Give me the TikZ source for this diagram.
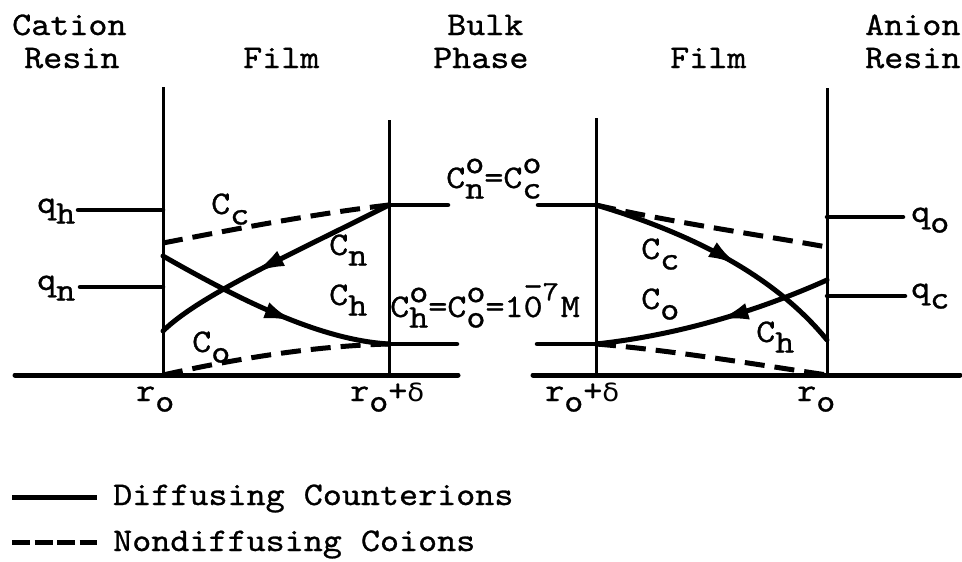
\documentclass[tikz,border=0pt]{standalone}
\usepackage{fontspec}
\newfontfamily\tyfont{lmmono10-regular.otf}[FakeBold=0.8]
\newfontfamily\grk{DejaVu Sans}
\usetikzlibrary{arrows.meta,decorations.markings}

\newcommand\dn[1]{\raisebox{-0.32em}{#1}}
\newcommand\up[1]{\raisebox{0.45em}{#1}}
\newcommand\ud[2]{\rlap{\up{#1}}\dn{#2}}
\newcommand\tw[1]{\scalebox{1.1}[1]{#1}}
\newcommand\dlt{{\grk\fontsize{25}{28}\selectfont δ}}

\begin{document}
\begin{tikzpicture}[x=1pt,y=-1pt,
  lbl/.style={inner sep=0pt, anchor=base west, font=\fontsize{33}{36}\selectfont\tyfont},
  axisln/.style={line width=5pt, line cap=round},
  wall/.style={line width=3pt},
  lvl/.style={line width=4.5pt, line cap=round},
  solidc/.style={line width=5pt, line cap=round},
  dashc/.style={line width=5pt, dash pattern=on 20pt off 10pt},
  arr/.style={postaction={decorate}, decoration={markings, mark=at position #1 with {\arrow{Latex[length=30pt,width=17pt]}}}}
]
\path[use as bounding box] (0,0) rectangle (962,562);

% coordinates
\coordinate (A0) at (15,375);
\coordinate (A1) at (458,375);
\coordinate (B0) at (533,375);
\coordinate (B1) at (960,375);
\coordinate (W1t) at (163,87);  \coordinate (W1b) at (163,375);
\coordinate (W2t) at (389,120); \coordinate (W2b) at (389,375);
\coordinate (W3t) at (596,118); \coordinate (W3b) at (596,375);
\coordinate (W4t) at (827,88);  \coordinate (W4b) at (827,375);
\coordinate (qh0) at (78,210);  \coordinate (qh1) at (163,210);
\coordinate (qn0) at (80,287);  \coordinate (qn1) at (163,287);
\coordinate (qo0) at (827,217); \coordinate (qo1) at (903,217);
\coordinate (qc0) at (827,296); \coordinate (qc1) at (905,296);
\coordinate (L1) at (389,205);  \coordinate (L2) at (448,205);
\coordinate (L3) at (389,344);  \coordinate (L4) at (457,344);
\coordinate (R1) at (538,205);  \coordinate (R2) at (596,205);
\coordinate (R3) at (537,344);  \coordinate (R4) at (596,344);
\coordinate (LCc) at (163,243);
\coordinate (LCn) at (163,331);
\coordinate (LCh) at (163,256);
\coordinate (LCo) at (163,375);
\coordinate (RCc) at (827,247);
\coordinate (RCh) at (827,340);
\coordinate (RCo) at (827,280);
\coordinate (RCb) at (827,375);

% axes and walls
\draw[axisln] (A0) -- (A1);
\draw[axisln] (B0) -- (B1);
\draw[wall] (W1t) -- (W1b);
\draw[wall] (W2t) -- (W2b);
\draw[wall] (W3t) -- (W3b);
\draw[wall] (W4t) -- (W4b);

% resin levels and bulk levels
\draw[lvl] (qh0) -- (qh1);
\draw[lvl] (qn0) -- (qn1);
\draw[lvl] (qo0) -- (qo1);
\draw[lvl] (qc0) -- (qc1);
\draw[lvl] (L1) -- (L2);
\draw[lvl] (L3) -- (L4);
\draw[lvl] (R1) -- (R2);
\draw[lvl] (R3) -- (R4);

% left film
\draw[dashc] (LCc) .. controls (240,228) and (320,213) .. (L1);
\draw[dashc] (LCo) .. controls (230,360) and (310,346) .. (L3);
\draw[solidc, arr=0.58] (L1) .. controls (290,255) and (200,295) .. (LCn);
\draw[solidc, arr=0.6] (LCh) .. controls (240,300) and (320,340) .. (L3);

% right film
\draw[dashc] (R2) .. controls (670,222) and (760,235) .. (RCc);
\draw[dashc] (R4) .. controls (670,350) and (760,365) .. (RCb);
\draw[solidc, arr=0.57] (R2) .. controls (680,230) and (770,270) .. (RCh);
\draw[solidc, arr=0.48] (RCo) .. controls (760,310) and (680,335) .. (R4);

% headings
\node[lbl] (t1) at (12,35) {\tw{Cation}};
\node[lbl] (t2) at (24,68) {\tw{Resin}};
\node[lbl] (t3) at (243,68) {\tw{Film}};
\node[lbl] (t4) at (447,35) {\tw{Bulk}};
\node[lbl] (t5) at (433,68) {\tw{Phase}};
\node[lbl] (t6) at (670,68) {\tw{Film}};
\node[lbl] (t7) at (865,35) {\tw{Anion}};
\node[lbl] (t8) at (865,68) {\tw{Resin}};

% level labels
\node[lbl] (qh) at (37,213) {\tw{q\dn{h}}};
\node[lbl] (qn) at (37,290) {\tw{q\dn{n}}};
\node[lbl] (qo) at (911,222) {\tw{q\dn{o}}};
\node[lbl] (qc) at (911,298) {\tw{q\dn{c}}};

% curve labels
\node[lbl] (c1) at (211,214) {\tw{C\dn{c}}};
\node[lbl] (c2) at (329,255) {\tw{C\dn{n}}};
\node[lbl] (c3) at (329,305) {\tw{C\dn{h}}};
\node[lbl] (c4) at (192,352) {\tw{C\dn{o}}};
\node[lbl] (c5) at (641,259) {\tw{C\dn{c}}};
\node[lbl] (c6) at (641,309) {\tw{C\dn{o}}};
\node[lbl] (c7) at (756,342) {\tw{C\dn{h}}};

% bulk labels
\node[lbl] (e1) at (446,188) {\tw{C\ud{o}{n}=C\ud{o}{c}}};
\node[lbl] (e2) at (390,317) {\tw{C\ud{o}{h}=C\ud{o}{o}=1\rlap{\raisebox{0.62em}{-}}0\makebox[0.5em][l]{\raisebox{0.5em}{\fontsize{28}{30}\selectfont 7}}M}};

% axis labels
\node[lbl] (r1) at (136,401) {\tw{r\dn{o}}};
\node[lbl] (r2) at (350,401) {\tw{r\dn{o}+\dlt}};
\node[lbl] (r3) at (545,401) {\tw{r\dn{o}+\dlt}};
\node[lbl] (r4) at (797,401) {\tw{r\dn{o}}};

% legend
\coordinate (g1) at (12,497); \coordinate (g2) at (97,497);
\coordinate (g3) at (12,542); \coordinate (g4) at (97,542);
\draw[line width=5pt] (g1) -- (g2);
\draw[line width=5pt, dash pattern=on 18pt off 4.5pt] (g3) -- (g4);
\node[lbl] (lg1) at (113,505) {\tw{Diffusing Counterions}};
\node[lbl] (lg2) at (113,551) {\tw{Nondiffusing Coions}};
\end{tikzpicture}
\end{document}
